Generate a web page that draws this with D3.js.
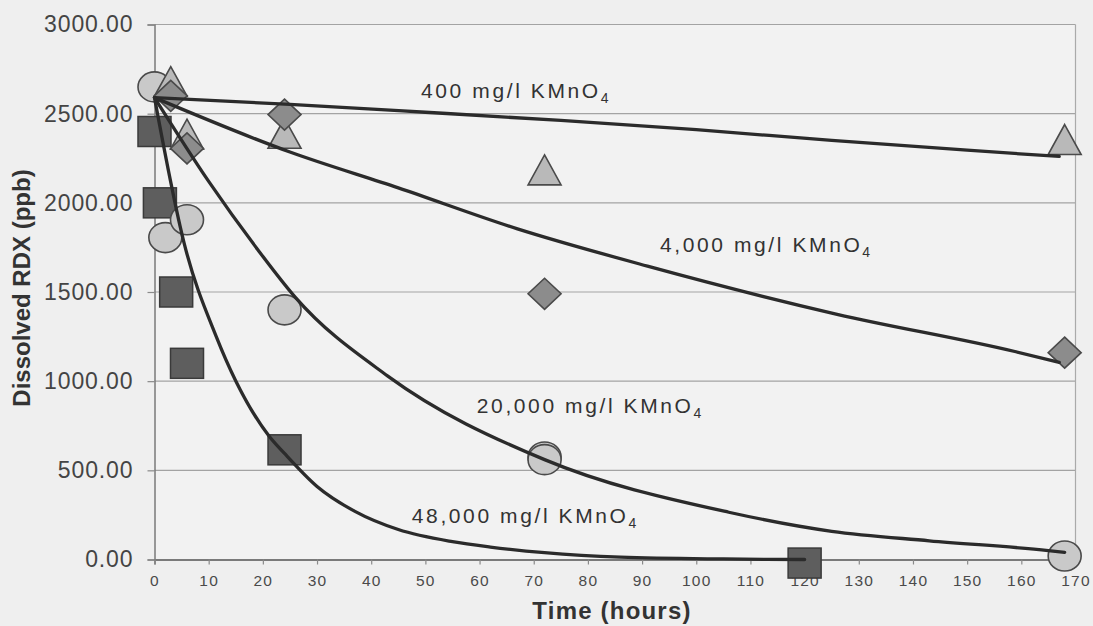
<!DOCTYPE html>
<html>
<head>
<meta charset="utf-8">
<script src="https://cdn.jsdelivr.net/npm/d3@7"></script>
<style>
  html, body { margin: 0; padding: 0; background: #efefef; }
  svg { display: block; }
  text { font-family: "Liberation Sans", Arial, sans-serif; }
</style>
</head>
<body>
<script>
// ---------------- data ----------------
const xTicks = [0,10,20,30,40,50,60,70,80,90,100,110,120,130,140,150,160,170];
const yTicks = [0,500,1000,1500,2000,2500,3000];

// measured points (hours, ppb)
const squareTime   = [0, 1, 4, 6, 24, 120];
const squareValue  = [2400, 2000, 1500, 1100, 615, -20];
const circleTime   = [0, 2, 6, 24, 72, 72, 168];
const circleValue  = [2650, 1805, 1905, 1400, 575, 560, 20];
const triangleTime = [3, 6, 24, 72, 168];
const triangleValue= [2680, 2385, 2390, 2185, 2355];
const diamondTime  = [3, 6, 24, 72, 168];
const diamondValue = [2600, 2305, 2495, 1490, 1160];

// fitted curves
const fit400Time   = [0, 25, 50, 75, 100, 125, 150, 167];
const fit400Value  = [2590, 2552, 2508, 2462, 2410, 2350, 2295, 2260];
const fit4000Time  = [0, 25, 45, 67, 91, 126, 159, 167];
const fit4000Value = [2590, 2285, 2084, 1854, 1645, 1375, 1165, 1105];
const fit20kTime   = [0, 10, 19, 26, 43, 72, 106, 125, 143, 165, 168];
const fit20kValue  = [2590, 2120, 1740, 1470, 1030, 560, 265, 158, 105, 50, 40];
const fit48kTime   = [0, 5.5, 11.4, 21.2, 24, 30, 37, 45, 55, 62, 72, 86, 105, 120];
const fit48kValue  = [2590, 1770, 1250, 690, 595, 410, 270, 168, 100, 70, 38, 13, 3, 0];

const labelTexts = ["400 mg/l KMnO", "4,000 mg/l KMnO", "20,000 mg/l KMnO", "48,000 mg/l KMnO"];
const labelSub = "4";

// ---------------- layout ----------------
const W = 1093, H = 626;
const plot = { left: 154.5, right: 1075.5, top: 24.5, bottom: 559.5 };
const labelAnchors = [ [49.2, 2588], [93.3, 1724], [59.5, 821], [47.5, 205] ]; // data coords

const x = d3.scaleLinear().domain([0, 170]).range([plot.left, plot.right]);
const y = d3.scaleLinear().domain([0, 3000]).range([plot.bottom, plot.top]);

const svg = d3.select("body").append("svg").attr("width", W).attr("height", H);
svg.append("rect").attr("width", W).attr("height", H).attr("fill", "#efefef");
svg.append("rect").attr("x", plot.left).attr("y", plot.top)
  .attr("width", plot.right - plot.left).attr("height", plot.bottom - plot.top)
  .attr("fill", "#f2f2f2");

// grid lines
svg.append("g").selectAll("line").data(yTicks.filter(d => d > 0)).join("line")
  .attr("x1", plot.left).attr("x2", plot.right)
  .attr("y1", d => y(d)).attr("y2", d => y(d))
  .attr("stroke", "#a3a3a3").attr("stroke-width", 1.2);

// right border
svg.append("line").attr("x1", plot.right).attr("x2", plot.right)
  .attr("y1", plot.top).attr("y2", plot.bottom)
  .attr("stroke", "#aaaaaa").attr("stroke-width", 1.2);

// y axis
const yAxis = svg.append("g").attr("transform", `translate(${plot.left},0)`)
  .call(d3.axisLeft(y).tickValues(yTicks).tickSize(7).tickPadding(14).tickFormat(d3.format(".2f")));
yAxis.select(".domain").attr("stroke", "#7a7a7a").attr("stroke-width", 1.5);
yAxis.selectAll(".tick line").attr("stroke", "#8a8a8a").attr("stroke-width", 1.2);
yAxis.selectAll(".tick text").attr("font-size", 23).attr("fill", "#444")
  .attr("letter-spacing", "0.9px").attr("font-family", "Liberation Sans, Arial, sans-serif");

// x axis
const xAxis = svg.append("g").attr("transform", `translate(0,${plot.bottom})`)
  .call(d3.axisBottom(x).tickValues(xTicks).tickSize(5).tickPadding(10).tickFormat(d => d));
xAxis.select(".domain").attr("stroke", "#7a7a7a").attr("stroke-width", 1.8);
xAxis.selectAll(".tick line").attr("stroke", "#8a8a8a").attr("stroke-width", 1.2);
xAxis.selectAll(".tick text").attr("font-size", 15.5).attr("fill", "#4a4a4a")
  .attr("letter-spacing", "1.2px").attr("font-family", "Liberation Sans, Arial, sans-serif");

// axis titles
svg.append("text").attr("x", 612).attr("y", 619).attr("text-anchor", "middle")
  .attr("font-size", 24).attr("font-weight", "bold").attr("letter-spacing", "1.2px")
  .attr("fill", "#333").text("Time (hours)");
svg.append("text").attr("transform", "translate(30,288) rotate(-90)").attr("text-anchor", "middle")
  .attr("font-size", 24).attr("font-weight", "bold").attr("fill", "#333")
  .text("Dissolved RDX (ppb)");

// ---------------- markers ----------------
const zip = (ts, vs) => ts.map((t, i) => ({ t, v: vs[i] }));
const mk = svg.append("g");
const strokeC = "#4a4a4a";

mk.selectAll("rect.sq").data(zip(squareTime, squareValue)).join("rect")
  .attr("x", d => x(d.t) - 16.5).attr("y", d => y(d.v) - 15)
  .attr("width", 33).attr("height", 30)
  .attr("fill", "#5e5e5e").attr("stroke", "#3a3a3a").attr("stroke-width", 1.5);

mk.selectAll("ellipse.ci").data(zip(circleTime, circleValue)).join("ellipse")
  .attr("cx", d => x(d.t)).attr("cy", d => y(d.v)).attr("rx", 16.5).attr("ry", 15)
  .attr("fill", "#c9c9c9").attr("stroke", strokeC).attr("stroke-width", 1.6);

mk.selectAll("path.tri").data(zip(triangleTime, triangleValue)).join("path")
  .attr("d", d => { const cx = x(d.t), cy = y(d.v);
    return `M${cx},${cy - 15}L${cx + 16.5},${cy + 15}L${cx - 16.5},${cy + 15}Z`; })
  .attr("fill", "#b9b9b9").attr("stroke", strokeC).attr("stroke-width", 1.6);

mk.selectAll("path.dia").data(zip(diamondTime, diamondValue)).join("path")
  .attr("d", d => { const cx = x(d.t), cy = y(d.v);
    return `M${cx},${cy - 15.5}L${cx + 16.5},${cy}L${cx},${cy + 15.5}L${cx - 16.5},${cy}Z`; })
  .attr("fill", "#8c8c8c").attr("stroke", strokeC).attr("stroke-width", 1.6);

// ---------------- fitted lines ----------------
const line = d3.line().x(d => x(d.t)).y(d => y(d.v)).curve(d3.curveMonotoneX);
const fits = [
  zip(fit400Time, fit400Value),
  zip(fit4000Time, fit4000Value),
  zip(fit20kTime, fit20kValue),
  zip(fit48kTime, fit48kValue)
];
svg.append("g").selectAll("path").data(fits).join("path")
  .attr("d", line).attr("fill", "none").attr("stroke", "#2b2b2b")
  .attr("stroke-width", 3.3).attr("stroke-linejoin", "round").attr("stroke-linecap", "round");

// ---------------- labels ----------------
const lab = svg.append("g");
labelTexts.forEach((txt, i) => {
  const [lt, lv] = labelAnchors[i];
  const t = lab.append("text").attr("x", x(lt)).attr("y", y(lv))
    .attr("font-size", 21).attr("fill", "#333").attr("letter-spacing", "2.6px");
  t.append("tspan").text(txt);
  t.append("tspan").attr("font-size", 14).attr("dy", 5).text(labelSub);
});
</script>
</body>
</html>
